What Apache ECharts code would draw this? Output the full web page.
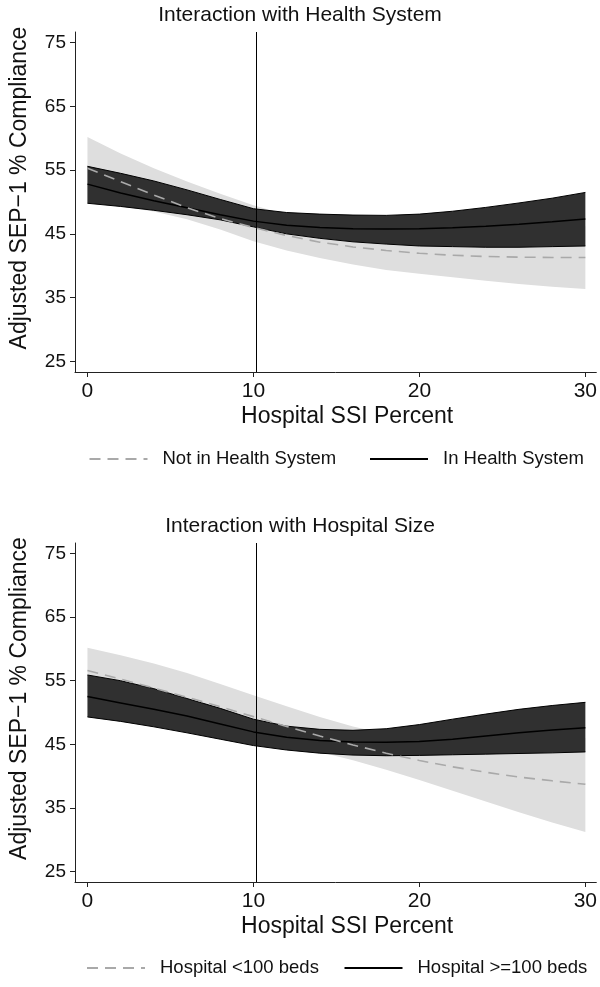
<!DOCTYPE html>
<html><head><meta charset="utf-8">
<script src="https://cdn.jsdelivr.net/npm/echarts@6/dist/echarts.min.js"></script>
<style>html,body{margin:0;padding:0;background:#fff}#c{width:600px;height:987px}</style>
</head><body><div id="c"></div>
<script>
// ---- data ----
const xs = [0, 2, 4, 6, 8, 10, 12, 14, 16, 18, 20, 22, 24, 26, 28, 30];
const xTicks = [0, 10, 20, 30];
const yTicks = [25, 35, 45, 55, 65, 75];
const refLine = [10.2];

// Panel 1: Interaction with Health System
const hsNotMean = [55.3, 53.2, 51.1, 49.1, 47.4, 46.0, 44.75, 43.7, 42.95, 42.4, 41.95, 41.65, 41.45, 41.35, 41.3, 41.3];
const hsNotLo   = [50.0, 49.3, 48.5, 47.3, 45.7, 43.85, 42.4, 41.2, 40.2, 39.35, 38.75, 38.2, 37.65, 37.15, 36.7, 36.35];
const hsNotHi   = [60.2, 57.6, 55.3, 53.2, 51.3, 49.5, 48.0, 46.9, 46.0, 45.4, 45.1, 45.0, 45.1, 45.3, 45.7, 46.2];
const hsInMean  = [52.8, 51.4, 50.2, 49.1, 48.0, 47.0, 46.35, 46.0, 45.8, 45.75, 45.8, 45.95, 46.2, 46.5, 46.9, 47.35];
const hsInLo    = [49.8, 49.3, 48.7, 48.0, 47.2, 46.1, 45.0, 44.3, 43.75, 43.4, 43.1, 43.0, 42.9, 42.9, 43.0, 43.1];
const hsInHi    = [55.6, 54.5, 53.3, 51.9, 50.4, 48.95, 48.35, 48.1, 47.95, 47.9, 48.1, 48.55, 49.15, 49.85, 50.6, 51.5];

// Panel 2: Interaction with Hospital Size
const szSmallMean = [56.6, 55.25, 53.85, 52.4, 50.9, 49.35, 47.8, 46.3, 44.9, 43.6, 42.45, 41.45, 40.6, 39.85, 39.25, 38.7];
const szSmallLo   = [53.0, 51.6, 50.3, 48.9, 47.6, 46.3, 45.0, 43.8, 42.5, 41.0, 39.4, 37.7, 36.0, 34.3, 32.7, 31.2];
const szSmallHi   = [60.2, 59.0, 57.7, 56.2, 54.5, 52.7, 51.0, 49.3, 47.8, 46.6, 45.7, 45.1, 44.9, 45.0, 45.4, 46.0];
const szBigMean   = [52.5, 51.5, 50.5, 49.45, 48.2, 46.95, 46.1, 45.6, 45.35, 45.3, 45.45, 45.8, 46.3, 46.8, 47.25, 47.6];
const szBigLo     = [49.3, 48.6, 47.75, 46.8, 45.8, 44.8, 44.1, 43.6, 43.3, 43.2, 43.25, 43.35, 43.45, 43.55, 43.65, 43.8];
const szBigHi     = [55.9, 55.0, 53.75, 52.2, 50.65, 48.95, 47.85, 47.35, 47.2, 47.45, 48.1, 48.95, 49.75, 50.5, 51.1, 51.6];

const titles = ['Interaction with Health System', 'Interaction with Hospital Size'];
const legendNames = [['Not in Health System', 'In Health System'], ['Hospital <100 beds', 'Hospital >=100 beds']];
const xName = 'Hospital SSI Percent';
const yName = 'Adjusted SEP\u22121 % Compliance';

// ---- styling ----
const FONT = "'Liberation Sans', Arial, Helvetica, sans-serif";
const LIGHT = '#dedede', DARK = '#303030', DASH = '#a9a9a9', INK = '#111';

const pairs = arr => xs.map((x, i) => [x, arr[i]]);

function band(g, lo, hi, color, z) {
  return {
    type: 'custom', xAxisIndex: g, yAxisIndex: g, z: z, silent: true,
    data: [[xs[0], lo[0]]],
    renderItem: function (params, api) {
      const pts = [];
      for (let i = 0; i < xs.length; i++) pts.push(api.coord([xs[i], hi[i]]));
      for (let i = xs.length - 1; i >= 0; i--) pts.push(api.coord([xs[i], lo[i]]));
      return { type: 'polygon', shape: { points: pts }, style: { fill: color } };
    }
  };
}
function line(g, name, arr, style, z) {
  return {
    type: 'line', name: name, xAxisIndex: g, yAxisIndex: g, z: z, silent: true,
    symbol: 'none', symbolSize: 0, showSymbol: false, data: pairs(arr), lineStyle: style,
    itemStyle: { color: style.color }
  };
}
function vline(g) {
  return {
    type: 'line', xAxisIndex: g, yAxisIndex: g, z: 6, data: [], silent: true,
    markLine: { silent: true, symbol: 'none', label: { show: false },
      lineStyle: { color: '#000', width: 1, type: 'solid' },
      data: [{ xAxis: refLine[0] }] }
  };
}

const grids = [{ left: 73, width: 524, top: 32, height: 340 }, { left: 73, width: 524, top: 543, height: 339 }];

const option = {
  animation: false,
  backgroundColor: '#fff',
  title: [
    { text: titles[0], left: 'center', top: 5, padding: [0, 0, 0, 15],
      textStyle: { fontSize: 21, fontWeight: 'normal', color: INK, fontFamily: FONT, lineHeight: 21 } },
    { text: titles[1], left: 'center', top: 516, padding: [0, 0, 0, 15],
      textStyle: { fontSize: 21, fontWeight: 'normal', color: INK, fontFamily: FONT, lineHeight: 21 } }
  ],
  grid: grids,
  xAxis: [0, 1].map(i => ({
    type: 'value', gridIndex: i, min: -0.75, max: 30.66,
    axisLine: { show: true, onZero: false, lineStyle: { color: '#222', width: 1 } },
    axisTick: { show: true, length: 5, customValues: xTicks, lineStyle: { color: '#222' } },
    axisLabel: { customValues: xTicks, fontSize: 21, color: INK, margin: 9, fontFamily: FONT },
    splitLine: { show: false },
    name: xName, nameLocation: 'middle', nameGap: 33,
    nameTextStyle: { fontSize: 23, color: INK, fontFamily: FONT, padding: [0, 0, 0, 23] }
  })),
  yAxis: [0, 1].map(i => ({
    type: 'value', gridIndex: i, min: 23.3333, max: 76.6667,
    axisLine: { show: true, onZero: false, lineStyle: { color: '#222', width: 1 } },
    axisTick: { show: true, length: 5, customValues: yTicks, lineStyle: { color: '#222' } },
    axisLabel: { customValues: yTicks, fontSize: 19, color: INK, margin: 9, fontFamily: FONT },
    splitLine: { show: false },
    name: yName, nameLocation: 'middle', nameGap: 44,
    nameTextStyle: { fontSize: 23, color: INK, fontFamily: FONT, padding: [0, 0, 0, 28] }
  })),
  legend: [
    [0, 0, 88.5, 449], [0, 1, 369, 449], [1, 0, 86, 958], [1, 1, 343.5, 958]
  ].map(([p, k, l, t]) => ({
    data: [legendNames[p][k]], left: l, top: t, padding: 0, itemWidth: 58, itemHeight: 20,
    selectedMode: false,
    itemStyle: { opacity: 0 },
    textStyle: { fontSize: 18.5, color: INK, fontFamily: FONT, lineHeight: 20, padding: [0, 0, 0, 10] }
  })),
  series: [
    // panel 1
    band(0, hsNotLo, hsNotHi, LIGHT, 1),
    band(0, hsInLo, hsInHi, DARK, 2),
    line(0, 'hsInHiEdge', hsInHi, { color: '#000', width: 1 }, 3),
    line(0, 'hsInLoEdge', hsInLo, { color: '#000', width: 1 }, 3),
    line(0, legendNames[0][1], hsInMean, { color: '#000', width: 1.5 }, 4),
    line(0, legendNames[0][0], hsNotMean, { color: DASH, width: 1.6, type: [11, 7] }, 5),
    vline(0),
    // panel 2
    band(1, szSmallLo, szSmallHi, LIGHT, 1),
    band(1, szBigLo, szBigHi, DARK, 2),
    line(1, 'szBigHiEdge', szBigHi, { color: '#000', width: 1 }, 3),
    line(1, 'szBigLoEdge', szBigLo, { color: '#000', width: 1 }, 3),
    line(1, legendNames[1][1], szBigMean, { color: '#000', width: 1.5 }, 4),
    line(1, legendNames[1][0], szSmallMean, { color: DASH, width: 1.6, type: [11, 7] }, 5),
    vline(1)
  ]
};
const chart = echarts.init(document.getElementById('c'), null, { renderer: 'canvas' });
chart.setOption(option);
</script>
</body></html>
